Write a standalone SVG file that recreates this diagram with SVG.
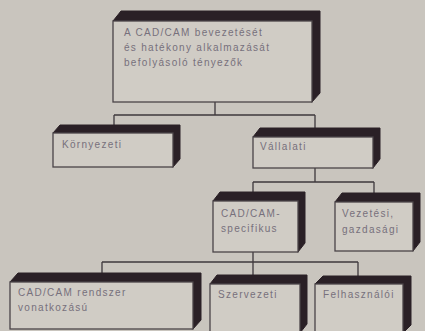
<svg xmlns="http://www.w3.org/2000/svg" width="425" height="331" viewBox="0 0 425 331">
<style>
.bg{fill:#c9c5be}
.side{fill:#2a2026;stroke:#2a2026;stroke-width:1}
.face{fill:#d0ccc5;stroke:#4a4448;stroke-width:1.3}
.lbl{font-family:"Liberation Sans",Arial,sans-serif;font-size:10px;letter-spacing:1.3px;fill:#77707c}
.con{fill:none;stroke:#3e383c;stroke-width:1.3}
</style>
<rect class="bg" x="0" y="0" width="425" height="331"/>
<g id="connectors">
<path class="con" d="M215,102 V115 M114,115 H315 M114,115 V126 M315,115 V129"/>
<path class="con" d="M315,168 V182 M253,182 H374 M253,182 V193 M374,182 V193"/>
<path class="con" d="M253,252 V262 M102,262 H358 M102,262 V274 M253,262 V276 M358,262 V276"/>
</g>
<g id="n1">
<polygon class="side" points="113,21 121,11 320,11 320,93 312,102"/>
<rect class="face" x="113" y="21" width="199" height="81"/>
<text class="lbl" x="124" y="36">A CAD/CAM bevezetését</text>
<text class="lbl" x="124" y="51">és hatékony alkalmazását</text>
<text class="lbl" x="124" y="66">befolyásoló tényezők</text>
</g>
<g id="n2">
<polygon class="side" points="53,133 60,125 180,125 180,159 173,167"/>
<rect class="face" x="53" y="133" width="120" height="34"/>
<text class="lbl" x="62" y="148">Környezeti</text>
</g>
<g id="n3">
<polygon class="side" points="253,137 260,128 380,128 380,159 373,168"/>
<rect class="face" x="253" y="137" width="120" height="31"/>
<text class="lbl" x="260" y="150">Vállalati</text>
</g>
<g id="n4">
<polygon class="side" points="213,201 220,192 305,192 305,243 298,252"/>
<rect class="face" x="213" y="201" width="85" height="51"/>
<text class="lbl" x="221" y="217">CAD/CAM-</text>
<text class="lbl" x="221" y="232">specifikus</text>
</g>
<g id="n5">
<polygon class="side" points="335,202 342,193 420,193 420,242 413,251"/>
<rect class="face" x="335" y="202" width="78" height="49"/>
<text class="lbl" x="342" y="217">Vezetési,</text>
<text class="lbl" x="342" y="233">gazdasági</text>
</g>
<g id="n6">
<polygon class="side" points="10,282 18,273 201,273 201,320 193,329"/>
<rect class="face" x="10" y="282" width="183" height="47"/>
<text class="lbl" x="18" y="296">CAD/CAM rendszer</text>
<text class="lbl" x="18" y="311">vonatkozású</text>
</g>
<g id="n7">
<polygon class="side" points="210,284 217,275 307,275 307,324 300,333"/>
<rect class="face" x="210" y="284" width="90" height="49"/>
<text class="lbl" x="218" y="298">Szervezeti</text>
</g>
<g id="n8">
<polygon class="side" points="315,284 323,276 411,276 411,325 403,333"/>
<rect class="face" x="315" y="284" width="88" height="49"/>
<text class="lbl" x="323" y="298">Felhasználói</text>
</g>
</svg>
